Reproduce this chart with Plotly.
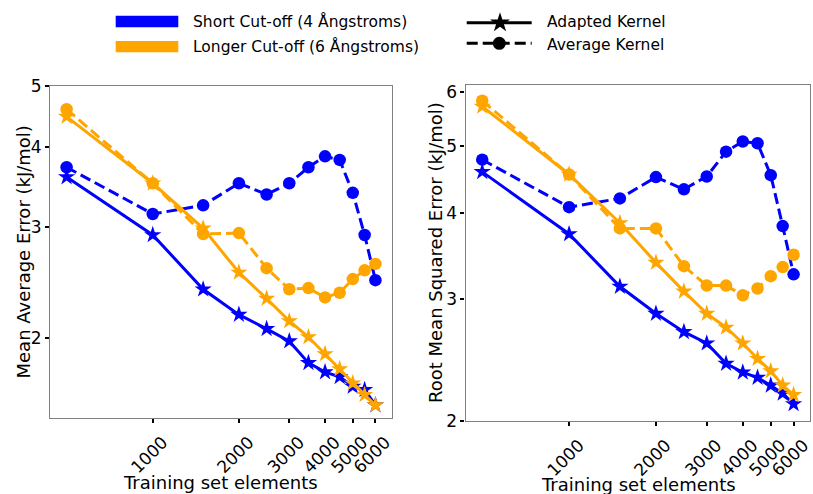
import numpy as np
import plotly.graph_objects as go

# ---------------- data ----------------
train_sizes = [500, 1000, 1500, 2000, 2500, 3000, 3500, 4000, 4500, 5000, 5500, 6000]

mae_short_adapted = [3.59, 2.91, 2.39, 2.18, 2.07, 1.98, 1.83, 1.77, 1.74, 1.68, 1.66, 1.57]
mae_short_average = [3.72, 3.14, 3.24, 3.51, 3.37, 3.51, 3.72, 3.87, 3.82, 3.39, 2.91, 2.47]
mae_long_adapted = [4.47, 3.51, 2.98, 2.54, 2.31, 2.13, 2.01, 1.89, 1.79, 1.70, 1.63, 1.57]
mae_long_average = [4.59, 3.51, 2.92, 2.93, 2.58, 2.39, 2.40, 2.32, 2.36, 2.48, 2.56, 2.62]

rmse_short_adapted = [4.59, 3.73, 3.13, 2.86, 2.69, 2.59, 2.42, 2.35, 2.31, 2.25, 2.19, 2.115]
rmse_short_average = [4.78, 4.08, 4.20, 4.51, 4.33, 4.52, 4.91, 5.08, 5.05, 4.54, 3.83, 3.26]
rmse_long_adapted = [5.71, 4.55, 3.87, 3.39, 3.08, 2.86, 2.73, 2.59, 2.46, 2.36, 2.25, 2.18]
rmse_long_average = [5.82, 4.55, 3.80, 3.80, 3.35, 3.14, 3.14, 3.04, 3.11, 3.24, 3.34, 3.48]

x_tick_vals = [1000, 2000, 3000, 4000, 5000, 6000]
x_tick_text = ["1000", "2000", "3000", "4000", "5000", "6000"]
x_minor_vals = [500, 1500, 2500, 3500, 4500, 5500, 6500]
mae_tick_vals = [2, 3, 4, 5]
mae_minor_vals = [1.5, 2.5, 3.5, 4.5]
rmse_tick_vals = [2, 3, 4, 5, 6]
rmse_minor_vals = [2.5, 3.5, 4.5, 5.5]

series_labels = ["Short Cut-off (4 Ångstroms)", "Longer Cut-off (6 Ångstroms)"]
kernel_labels = ["Adapted Kernel", "Average Kernel"]

BLUE = "#0000FF"
ORANGE = "#FFA500"
FONT = "DejaVu Sans"
W, H = 813, 494
TICK_SIZE = 17
DASH = "11px,5px"

def px(x):
    return x / W

def py(y):
    return 1 - y / H

X_RANGE = [2.641, 3.835]
MAE_RANGE = [float(np.log10(1.5)), float(np.log10(5))]
RMSE_RANGE = [float(np.log10(2)), float(np.log10(6.14))]

fig = go.Figure()

def add_series(xa, ya, y_adapted, y_average, color):
    fig.add_trace(go.Scatter(
        x=train_sizes, y=y_adapted, xaxis=xa, yaxis=ya, mode="lines+markers",
        line=dict(color=color, width=3),
        marker=dict(symbol="star", size=13, color=color, line=dict(width=0)),
        showlegend=False, hoverinfo="skip", cliponaxis=False))
    fig.add_trace(go.Scatter(
        x=train_sizes, y=y_average, xaxis=xa, yaxis=ya, mode="lines+markers",
        line=dict(color=color, width=3, dash=DASH),
        marker=dict(symbol="circle", size=12.5, color=color, line=dict(width=0)),
        showlegend=False, hoverinfo="skip", cliponaxis=False))

add_series("x", "y", mae_short_adapted, mae_short_average, BLUE)
add_series("x", "y", mae_long_adapted, mae_long_average, ORANGE)
add_series("x2", "y2", rmse_short_adapted, rmse_short_average, BLUE)
add_series("x2", "y2", rmse_long_adapted, rmse_long_average, ORANGE)

# legend glyph markers on an invisible pixel overlay axis
fig.add_trace(go.Scatter(x=[500], y=[22.7], xaxis="x3", yaxis="y3", mode="markers",
                         marker=dict(symbol="star", size=15, color="black", line=dict(width=0)),
                         showlegend=False, hoverinfo="skip"))
fig.add_trace(go.Scatter(x=[499.3], y=[43.3], xaxis="x3", yaxis="y3", mode="markers",
                         marker=dict(symbol="circle", size=13, color="black", line=dict(width=0)),
                         showlegend=False, hoverinfo="skip"))

spine = "#808080"

def x_axis(domain, anchor):
    return dict(
        type="log", range=X_RANGE, domain=domain, anchor=anchor,
        tickmode="array", tickvals=x_tick_vals, ticktext=x_tick_text, tickangle=-45,
        ticklabelshift=10, ticklabelstandoff=3, ticklabeloverflow="allow",
        ticks="outside", ticklen=4, tickwidth=1.5, tickcolor="black",
        showgrid=False, zeroline=False, showline=True, linecolor=spine, linewidth=1.2, mirror=True,
        tickfont=dict(family=FONT, size=TICK_SIZE, color="black"), automargin=False,
    )

def y_axis(domain, anchor, rng, vals):
    return dict(
        type="log", range=rng, domain=domain, anchor=anchor,
        tickmode="array", tickvals=vals, ticktext=[str(v) for v in vals],
        ticklabeloverflow="allow",
        ticks="outside", ticklen=4, tickwidth=1.5, tickcolor="black",
        showgrid=False, zeroline=False, showline=True, linecolor=spine, linewidth=1.2, mirror=True,
        tickfont=dict(family=FONT, size=TICK_SIZE, color="black"), automargin=False,
    )

def minor_x(domain, anchor, overlay):
    return dict(type="log", range=X_RANGE, domain=domain, anchor=anchor, overlaying=overlay, side="bottom",
                tickmode="array", tickvals=x_minor_vals, ticks="outside", ticklen=3, tickwidth=1.5,
                tickcolor="red", showticklabels=False, showgrid=False, zeroline=False, showline=False,
                automargin=False, fixedrange=True)

def minor_y(domain, anchor, overlay, rng, vals):
    return dict(type="log", range=rng, domain=domain, anchor=anchor, overlaying=overlay, side="left",
                tickmode="array", tickvals=vals, ticks="outside", ticklen=3, tickwidth=1.5,
                tickcolor="red", showticklabels=False, showgrid=False, zeroline=False, showline=False,
                automargin=False, fixedrange=True)

xd1 = [px(50), px(391.7)]
yd1 = [py(417.7), py(85.7)]
xd2 = [px(465.5), px(810)]
yd2 = [py(420.7), py(84.7)]

fig.update_layout(
    width=W, height=H, margin=dict(l=0, r=0, t=0, b=0),
    paper_bgcolor="white", plot_bgcolor="rgba(0,0,0,0)",
    font=dict(family=FONT, color="black"),
    showlegend=False,
    xaxis=x_axis(xd1, "y"),
    yaxis=y_axis(yd1, "x", MAE_RANGE, mae_tick_vals),
    xaxis2=x_axis(xd2, "y2"),
    yaxis2=y_axis(yd2, "x2", RMSE_RANGE, rmse_tick_vals),
    xaxis3=dict(domain=[0, 1], range=[0, W], visible=False, anchor="y3", fixedrange=True),
    yaxis3=dict(domain=[0, 1], range=[H, 0], visible=False, anchor="x3", fixedrange=True),
    xaxis4=minor_x(xd1, "y", "x"),
    yaxis4=minor_y(yd1, "x", "y", MAE_RANGE, mae_minor_vals),
    xaxis5=minor_x(xd2, "y2", "x2"),
    yaxis5=minor_y(yd2, "x2", "y2", RMSE_RANGE, rmse_minor_vals),
)

# axis titles
titles = [
    dict(text="Training set elements", x=220.8, y=482, angle=0),
    dict(text="Training set elements", x=638, y=484, angle=0),
    dict(text="Mean Average Error (kJ/mol)", x=22.5, y=252, angle=-90),
    dict(text="Root Mean Squared Error (kJ/mol)", x=435, y=253, angle=-90),
]
for t in titles:
    fig.add_annotation(text=t["text"], x=px(t["x"]), y=py(t["y"]), xref="paper", yref="paper",
                       xanchor="center", yanchor="middle", showarrow=False, textangle=t["angle"],
                       font=dict(family=FONT, size=18, color="black"))

# legend (manual, matching figure-level legend)
fig.add_shape(type="rect", xref="paper", yref="paper", x0=px(115.7), x1=px(178.3), y0=py(27.3), y1=py(15.7),
              fillcolor=BLUE, line=dict(width=0))
fig.add_shape(type="rect", xref="paper", yref="paper", x0=px(115.7), x1=px(178.3), y0=py(52.3), y1=py(41),
              fillcolor=ORANGE, line=dict(width=0))
fig.add_shape(type="line", xref="paper", yref="paper", x0=px(466.7), x1=px(531.7), y0=py(22.7), y1=py(22.7),
              line=dict(color="black", width=3))
fig.add_shape(type="line", xref="paper", yref="paper", x0=px(466.7), x1=px(531.7), y0=py(43.3), y1=py(43.3),
              line=dict(color="black", width=3, dash=DASH))
legend_texts = [
    (series_labels[0], 190.7, 21.5),
    (series_labels[1], 190.7, 46.7),
    (kernel_labels[0], 545, 22),
    (kernel_labels[1], 545, 45),
]
for txt, lx, ly in legend_texts:
    fig.add_annotation(text=txt, x=px(lx), y=py(ly), xref="paper", yref="paper",
                       xanchor="left", yanchor="middle", showarrow=False,
                       font=dict(family=FONT, size=15.5, color="black"))

fig.write_html("out.html")
